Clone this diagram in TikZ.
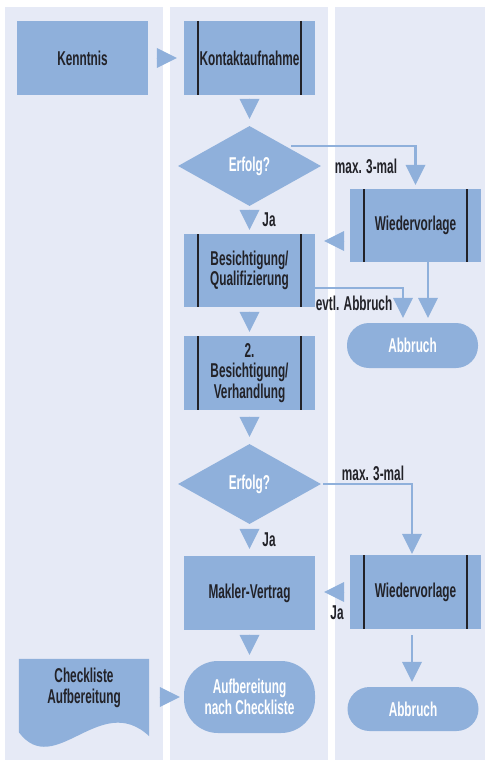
\documentclass[tikz,border=0pt]{standalone}
\usepackage{fontspec}
\setmainfont[FakeStretch=0.59]{Liberation Sans}
\usetikzlibrary{positioning,shapes.geometric,arrows.meta}
\definecolor{lane}{HTML}{E6EAF6}
\definecolor{boxblue}{HTML}{8FB0DB}
\definecolor{ink}{HTML}{222228}
\pgfdeclarelayer{lanes}
\pgfdeclarelayer{docs}
\pgfsetlayers{lanes,docs,main}
\tikzstyle{block} = [fill=boxblue, rectangle, minimum height=74pt, minimum width=131pt, inner sep=0pt, align=center, text=ink]
\tikzstyle{decision} = [fill=boxblue, diamond, minimum width=143pt, minimum height=80pt, inner sep=0pt, text=white]
\tikzstyle{terminal} = [fill=boxblue, rectangle, rounded corners=22pt, minimum height=45pt, minimum width=131pt, inner sep=0pt, align=center, text=white]
\tikzstyle{docbox} = [rectangle, minimum height=58pt, minimum width=130pt, inner sep=0pt, align=center, text=ink]
\tikzstyle{lbl} = [inner sep=0pt, text=ink]
\tikzstyle{flow} = [draw=boxblue, line width=2.4pt, -{Triangle[length=20pt,width=20pt,line width=0pt]}]
\tikzstyle{tri} = [flow, line width=0.01pt]
\tikzset{process/.style={block,
    path picture={
        \draw[ink, line width=1.2pt]
            ([xshift=14pt]path picture bounding box.north west) -- ([xshift=14pt]path picture bounding box.south west)
            ([xshift=-14pt]path picture bounding box.north east) -- ([xshift=-14pt]path picture bounding box.south east);
        }
    }
}
\tikzset{gap/.style 2 args={shorten <=#1, shorten >=#2}}

\begin{document}
\begin{tikzpicture}[x=1pt, y=-1pt, font=\fontsize{20}{20.5}\selectfont\bfseries]
        \useasboundingbox (0,0) rectangle (485,760);
        \begin{pgfonlayer}{lanes}
            \foreach \xa/\xb in {5/163, 170/328, 335/485}
                \fill[lane] (\xa,7) rectangle (\xb,760);
        \end{pgfonlayer}

        \node [block] (kenntnis) at (82.5,58) {Kenntnis};
        \node [process, right of=kenntnis, node distance=167pt] (kontakt) {Kontaktaufnahme};
        \node [decision, below of=kontakt, node distance=108pt] (erfolg1) {Erfolg?};
        \node [process, below of=erfolg1, node distance=104.5pt, minimum height=73pt] (besicht) {Besichtigung/\\Qualifizierung};
        \node [process, below of=besicht, node distance=102.5pt] (besicht2) {2.\\Besichtigung/\\Verhandlung};
        \node [decision, below of=besicht2, node distance=111pt] (erfolg2) {Erfolg?};
        \node [block, below of=erfolg2, node distance=109pt] (makler) {Makler-Vertrag};
        \node [terminal, below of=makler, node distance=104pt, minimum height=72pt, rounded corners=34pt] (aufber) {Aufbereitung\\nach Checkliste};
        \node [docbox, left of=aufber, node distance=165.5pt, yshift=9pt] (checkl) {Checkliste\\Aufbereitung};

        \node [process, right of=besicht, node distance=166pt, yshift=45pt, minimum height=73pt] (wieder1) {Wiedervorlage};
        \node [terminal, below of=wieder1, node distance=120pt, xshift=-3pt] (abbruch1) {Abbruch};
        \node [process, right of=makler, node distance=166pt, yshift=1pt] (wieder2) {Wiedervorlage};
        \node [terminal, below of=wieder2, node distance=117pt, xshift=-2.5pt, minimum height=44pt] (abbruch2) {Abbruch};

        \begin{pgfonlayer}{docs}
            \fill[boxblue] (checkl.north west) -- (checkl.north east) -- ([yshift=-19pt]checkl.south east)
                .. controls +(-49,-46) and +(36,48) .. ([yshift=-15pt]checkl.south west) -- cycle;
        \end{pgfonlayer}

        \draw [tri, gap={8pt}{7pt}] (kenntnis) -- (kontakt);
        \draw [tri, gap={3pt}{7pt}] (kontakt) -- (erfolg1);
        \draw [tri, gap={3pt}{4pt}] (erfolg1) -- (besicht);
        \draw [tri, gap={4pt}{4pt}] (besicht) -- (besicht2);
        \draw [tri, gap={6pt}{7pt}] (besicht2) -- (erfolg2);
        \draw [tri, gap={5pt}{7pt}] (erfolg2) -- (makler);
        \draw [tri, gap={4pt}{6pt}] (makler) -- (aufber);
        \draw [tri, gap={10pt}{4pt}] (checkl.east |- aufber) -- (aufber);

        \draw [flow, gap={6pt}{4pt}] (erfolg1.north east) -| (wieder1);
        \coordinate (w1in) at ([yshift=-15.5pt]wieder1.west);
        \draw [tri, gap={5pt}{9pt}] (w1in) -- (w1in -| besicht.east);
        \coordinate (b1out) at ([yshift=-17.5pt]besicht.east);
        \draw [flow, gap={0pt}{5pt}] (b1out) -| ([xshift=-9.5pt]abbruch1.north);
        \coordinate (w1out) at ([xshift=12.5pt]wieder1.south);
        \draw [flow, gap={0pt}{5pt}] (w1out) -- (w1out |- abbruch1.north);

        \draw [flow, gap={2pt}{1pt}] (erfolg2.east) -| ([xshift=-3.5pt]wieder2.north);
        \draw [tri, gap={5pt}{9pt}] (wieder2.west) -- (wieder2.west -| makler.east);
        \coordinate (w2out) at ([xshift=-3.5pt]wieder2.south);
        \draw [flow, gap={6pt}{5pt}] (w2out) -- (w2out |- abbruch2.north);

        \node [lbl, right of=erfolg1, node distance=116.5pt] (lmax1) {max. 3-mal};
        \node [lbl, below of=erfolg1, node distance=54pt, xshift=19.5pt] (lja1) {Ja};
        \node [lbl, right of=besicht, node distance=104.5pt, yshift=-32.5pt] (labbr) {evtl. Abbruch};
        \node [lbl, right of=erfolg2, node distance=123.5pt, yshift=11pt] (lmax2) {max. 3-mal};
        \node [lbl, below of=erfolg2, node distance=56pt, xshift=19.5pt] (lja2) {Ja};
        \node [lbl, left of=wieder2, node distance=78.5pt, yshift=-21pt] (lja3) {Ja};
\end{tikzpicture}
\end{document}
